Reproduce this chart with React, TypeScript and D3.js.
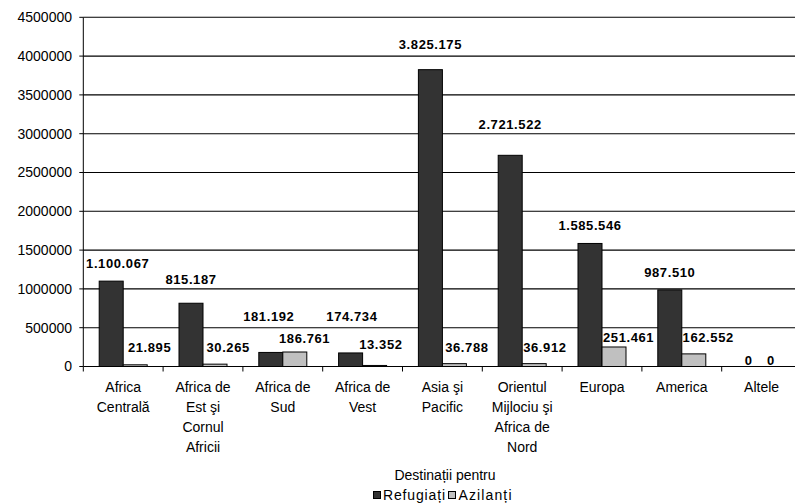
import React from "react";
import * as d3 from "d3";

// Regions of destination (line breaks mark how each axis label wraps)
const categories = [
  "Africa\nCentrală",
  "Africa de\nEst şi\nCornul\nAfricii",
  "Africa de\nSud",
  "Africa de\nVest",
  "Asia şi\nPacific",
  "Orientul\nMijlociu şi\nAfrica de\nNord",
  "Europa",
  "America",
  "Altele",
];

const refugees = [1100067, 815187, 181192, 174734, 3825175, 2721522, 1585546, 987510, 0];
const asylumSeekers = [21895, 30265, 186761, 13352, 36788, 36912, 251461, 162552, 0];

const yTicks = [0, 500000, 1000000, 1500000, 2000000, 2500000, 3000000, 3500000, 4000000, 4500000];

const seriesNames = ["Refugiați", "Azilanți"];
const legendTitle = "Destinații pentru";

// Hand-placed value labels: shift [dx, dy] from the top centre of each bar
const refugeeLabelShift = [
  [6.5, -17.8], [0, -23.9], [-2, -35.7], [1.3, -36.2], [0, -25.7],
  [0, -31.3], [0, -18.5], [0, -17.2], [-1, -6.5],
];
const asylumLabelShift = [
  [14.4, -17.1], [13.2, -16.5], [9.8, -13.7], [6.3, -21.5], [12.5, -15.9],
  [10.7, -15.9], [14.6, -9.7], [14.4, -16.6], [-2.7, -6.5],
];

const W = 795;
const H = 503;
const FONT = "'Liberation Sans', Arial, Helvetica, sans-serif";
const COLORS = ["#333333", "#c0c0c0"];

const fmtValue = (v: number) => d3.format(",")(v).replace(/,/g, ".");

export default function App() {
  const plotLeft = 83.3;
  const plotRight = 801.5;
  const plotTop = 17.3;
  const plotBottom = 366.5;

  const x = d3.scaleBand<string>().domain(categories).range([plotLeft, plotRight]).padding(0);
  const inner = d3
    .scaleBand<string>()
    .domain(seriesNames)
    .range([0, x.bandwidth()])
    .paddingInner(0)
    .paddingOuter(0.6625);
  const y = d3.scaleLinear().domain([0, 4500000]).range([plotBottom, plotTop]);

  const series = [refugees, asylumSeekers];
  const shifts = [refugeeLabelShift, asylumLabelShift];

  return (
    <svg
      width={W}
      height={H}
      style={{ position: "absolute", left: 0, top: 0, background: "#fff" }}
      fontFamily={FONT}
    >
      <rect width={W} height={H} fill="#fff" />

      {/* horizontal gridlines */}
      {yTicks.slice(1).map((t) => (
        <line key={"g" + t} x1={plotLeft} x2={W} y1={y(t)} y2={y(t)} stroke="#000" strokeWidth={1.1} />
      ))}

      {/* y axis */}
      <line x1={plotLeft} x2={plotLeft} y1={plotTop} y2={plotBottom} stroke="#000" strokeWidth={1} />
      {yTicks.map((t) => (
        <g key={"yt" + t}>
          <line x1={plotLeft - 4} x2={plotLeft} y1={y(t)} y2={y(t)} stroke="#000" />
          <text x={72} y={y(t)} dy="0.35em" textAnchor="end" fontSize={14} fill="#000">
            {t}
          </text>
        </g>
      ))}

      {/* bars */}
      {categories.map((c, i) =>
        series.map((vals, s) => {
          const x0 = (x(c) as number) + (inner(seriesNames[s]) as number);
          return (
            <rect
              key={c + s}
              x={x0}
              y={y(vals[i])}
              width={inner.bandwidth()}
              height={plotBottom - y(vals[i])}
              fill={COLORS[s]}
              stroke="#000"
              strokeWidth={1}
            />
          );
        })
      )}

      {/* x axis */}
      <line x1={plotLeft} x2={W} y1={plotBottom} y2={plotBottom} stroke="#000" strokeWidth={1} />
      {categories.map((c) => (
        <line
          key={"xt" + c}
          x1={x(c) as number}
          x2={x(c) as number}
          y1={plotBottom}
          y2={plotBottom + 5}
          stroke="#000"
        />
      ))}

      {/* category labels */}
      {categories.map((c) => {
        const cx = (x(c) as number) + x.bandwidth() / 2;
        return (
          <text key={"cl" + c} x={cx} y={387.3} textAnchor="middle" fontSize={14} fill="#000">
            {c.split("\n").map((line, k) => (
              <tspan key={k} x={cx} y={387.3 + k * 20} dy="0.35em">
                {line}
              </tspan>
            ))}
          </text>
        );
      })}

      {/* value labels */}
      {categories.map((c, i) =>
        series.map((vals, s) => {
          const cx = (x(c) as number) + (inner(seriesNames[s]) as number) + inner.bandwidth() / 2;
          const [dx, dy] = shifts[s][i];
          return (
            <text
              key={"vl" + c + s}
              x={cx + dx}
              y={y(vals[i]) + dy}
              dy="0.35em"
              textAnchor="middle"
              fontSize={13}
              fontWeight="bold"
              letterSpacing={0.6}
              fill="#000"
            >
              {fmtValue(vals[i])}
            </text>
          );
        })
      )}

      {/* legend */}
      <text x={445} y={475.5} dy="0.35em" textAnchor="middle" fontSize={14} fill="#000">
        {legendTitle}
      </text>
      <g transform="translate(373.5,491.5)">
        <rect x={0} y={0} width={7} height={7} fill={COLORS[0]} stroke="#000" />
        <text x={9.5} y={3.5} dy="0.35em" fontSize={14} fill="#000" textLength={62} lengthAdjust="spacing">
          {seriesNames[0]}
        </text>
        <rect x={75} y={0} width={7} height={7} fill={COLORS[1]} stroke="#000" />
        <text x={85} y={3.5} dy="0.35em" fontSize={14} fill="#000" textLength={53} lengthAdjust="spacing">
          {seriesNames[1]}
        </text>
      </g>
    </svg>
  );
}
